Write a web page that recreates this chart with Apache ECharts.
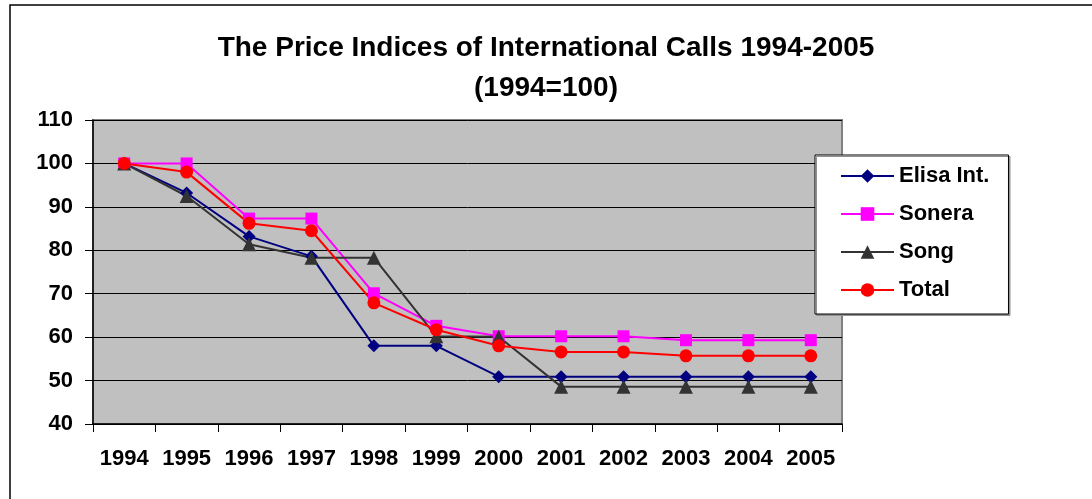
<!DOCTYPE html>
<html>
<head>
<meta charset="utf-8">
<script src="https://cdn.jsdelivr.net/npm/echarts@6/dist/echarts.min.js"></script>
<style>
  html, body { margin: 0; padding: 0; background: #fff; }
  #main { width: 1092px; height: 499px; }
</style>
</head>
<body>
<div id="main"></div>
<script>
// data
var years = ['1994', '1995', '1996', '1997', '1998', '1999', '2000', '2001', '2002', '2003', '2004', '2005'];
var elisa  = [100, 93.2, 83.2, 78.6, 58, 58, 50.9, 50.9, 50.9, 50.9, 50.9, 50.9];
var sonera = [100, 100, 87.3, 87.3, 70.1, 62.6, 60.2, 60.2, 60.2, 59.3, 59.3, 59.3];
var song   = [100, 92.5, 81.4, 78.3, 78.3, 60.2, 60.1, 48.6, 48.6, 48.6, 48.6, 48.6];
var total  = [100, 98, 86.2, 84.5, 67.9, 61.7, 58, 56.6, 56.6, 55.7, 55.7, 55.7];

var font = 'Arial, "Liberation Sans", sans-serif';

function lineSeries (name, data, color, symbol, size) {
    return {
        name: name,
        type: 'line',
        data: data,
        symbol: symbol,
        symbolSize: size,
        showAllSymbol: true,
        lineStyle: { color: color, width: 2 },
        itemStyle: { color: color },
        emphasis: { disabled: true },
        animation: false
    };
}

var myChart = echarts.init(document.getElementById('main'));

var option = {
    backgroundColor: '#fff',
    textStyle: { fontFamily: font },
    title: {
        text: 'The Price Indices of International Calls 1994-2005\n(1994=100)',
        left: 'center',
        top: 28,
        padding: 0,
        textStyle: { fontFamily: font, fontSize: 28, fontWeight: 'bold', color: '#000', lineHeight: 40 }
    },
    legend: {
        orient: 'vertical',
        left: 815,
        top: 155,
        padding: [10, 19, 13, 25],
        itemWidth: 53,
        itemHeight: 17,
        itemGap: 16,
        backgroundColor: '#fff',
        borderColor: '#000',
        borderWidth: 1,
        borderRadius: 0,
        shadowColor: '#909090',
        shadowOffsetX: 1.5,
        shadowOffsetY: 1.5,
        shadowBlur: 0,
        textStyle: { fontFamily: font, fontSize: 22, fontWeight: 'bold', color: '#000', lineHeight: 22 },
        data: ['Elisa Int.', 'Sonera', 'Song', 'Total']
    },
    grid: {
        left: 93,
        right: 250,
        top: 120,
        bottom: 75,
        show: true,
        backgroundColor: '#C0C0C0',
        borderColor: '#808080',
        borderWidth: 2
    },
    xAxis: {
        type: 'category',
        data: years,
        boundaryGap: true,
        axisLine: { lineStyle: { color: '#000', width: 1.5 } },
        axisTick: { show: true, length: 8, lineStyle: { color: '#000' }, alignWithLabel: false },
        axisLabel: { fontFamily: font, fontSize: 22, fontWeight: 'bold', color: '#000', margin: 24, interval: 0 },
        splitLine: { show: false }
    },
    yAxis: {
        type: 'value',
        min: 40,
        max: 110,
        interval: 10,
        axisLine: { show: true, lineStyle: { color: '#000', width: 1.5 } },
        axisTick: { show: true, length: 8, lineStyle: { color: '#000' } },
        axisLabel: { fontFamily: font, fontSize: 22, fontWeight: 'bold', color: '#000', margin: 20 },
        splitLine: { show: true, lineStyle: { color: '#000', width: 1 } }
    },
    graphic: [
        {
            type: 'rect',
            shape: { x: 10, y: 5, width: 1200, height: 700 },
            style: { fill: 'none', stroke: '#000', lineWidth: 1.5 },
            silent: true
        }
    ],
    series: [
        lineSeries('Elisa Int.', elisa, '#000080', 'diamond', 13),
        lineSeries('Sonera', sonera, '#FF00FF', 'rect', 12),
        lineSeries('Song', song, '#333333', 'triangle', 14),
        lineSeries('Total', total, '#FF0000', 'circle', 13)
    ]
};

myChart.setOption(option);
</script>
</body>
</html>
